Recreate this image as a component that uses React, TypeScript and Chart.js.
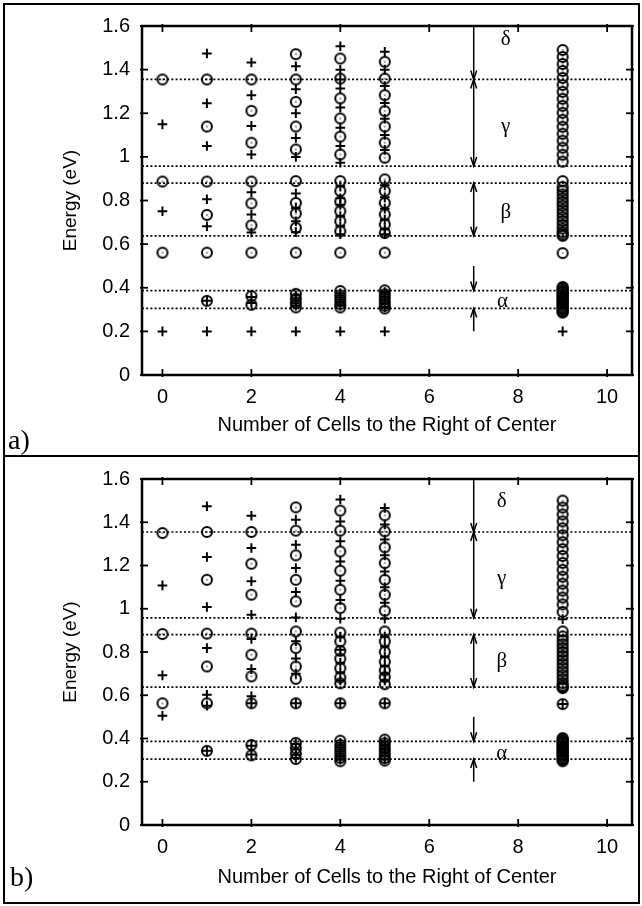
import React, { useEffect, useRef } from "react";
import { Chart, registerables } from "chart.js";
Chart.register(...registerables);

// ---------- shared axis data ----------
const X_MIN = -0.46;
const X_MAX = 10.56;
const xTicks = [0, 2, 4, 6, 8, 10];
const yTicks = [0, 0.2, 0.4, 0.6, 0.8, 1, 1.2, 1.4, 1.6];
const columns = [0, 1, 2, 3, 4, 5, 9];
const bandEdges = [1.355, 0.958, 0.88, 0.638, 0.387, 0.305];
const xTitle = "Number of Cells to the Right of Center";
const yTitle = "Energy (eV)";
const arrowX = 7;

// ---------- panel a ----------
const aCircles: number[][] = [
  [1.355, 0.887, 0.561],
  [1.355, 1.139, 0.887, 0.734, 0.561, 0.34],
  [1.355, 1.211, 1.065, 0.887, 0.787, 0.686, 0.561, 0.362, 0.322],
  [1.471, 1.355, 1.252, 1.139, 1.034, 0.889, 0.789, 0.74, 0.675, 0.561, 0.372, 0.35, 0.33, 0.31],
  [1.451, 1.359, 1.268, 1.176, 1.093, 1.011, 0.889, 0.843, 0.795, 0.751, 0.705, 0.659, 0.561, 0.385, 0.365, 0.345, 0.325, 0.31],
  [1.436, 1.359, 1.283, 1.21, 1.139, 1.065, 0.996, 0.897, 0.843, 0.789, 0.736, 0.69, 0.651, 0.561, 0.388, 0.37, 0.352, 0.335, 0.318, 0.305],
  [1.49, 1.458, 1.426, 1.394, 1.362, 1.33, 1.298, 1.266, 1.234, 1.202, 1.17, 1.138, 1.106, 1.074, 1.042, 1.01, 0.978,
   0.889, 0.862, 0.845, 0.828, 0.81, 0.793, 0.776, 0.758, 0.741, 0.723, 0.706, 0.688, 0.671, 0.655, 0.645, 0.638,
   0.559, 0.404, 0.398, 0.392, 0.386, 0.38, 0.374, 0.368, 0.362, 0.356, 0.35, 0.344, 0.338, 0.332, 0.326, 0.32, 0.314,
   0.308, 0.302, 0.296, 0.29, 0.286],
];
const aPluses: number[][] = [
  [1.149, 0.751, 0.2],
  [1.474, 1.246, 1.05, 0.806, 0.682, 0.34, 0.2],
  [1.433, 1.283, 1.142, 1.011, 0.838, 0.736, 0.653, 0.358, 0.33, 0.2],
  [1.415, 1.31, 1.2, 1.087, 1.0, 0.832, 0.766, 0.705, 0.655, 0.365, 0.34, 0.318, 0.2],
  [1.507, 1.399, 1.355, 1.313, 1.226, 1.134, 1.05, 0.973, 0.865, 0.81, 0.78, 0.728, 0.682, 0.645, 0.375, 0.355, 0.335, 0.318, 0.2],
  [1.482, 1.4, 1.325, 1.247, 1.175, 1.1, 1.032, 0.87, 0.815, 0.762, 0.712, 0.668, 0.645, 0.38, 0.36, 0.343, 0.325, 0.31, 0.2],
  [0.2],
];
// arrows at x = 7: [from, to, head at start, head at end]
const aArrows: [number, number, boolean, boolean][] = [
  [1.6, 1.355, false, true],
  [1.355, 0.958, true, true],
  [0.88, 0.638, true, true],
  [0.5, 0.387, false, true],
  [0.2, 0.305, false, true],
];
const aGreekText = ["δ", "γ", "β", "α"];
const aGreekX = [7.72, 7.72, 7.72, 7.65];
const aGreekY = [1.537, 1.14, 0.745, 0.335];

// ---------- panel b ----------
const bCircles: number[][] = [
  [1.35, 0.883, 0.563],
  [1.355, 1.134, 0.885, 0.733, 0.563, 0.343],
  [1.355, 1.208, 1.065, 0.885, 0.787, 0.687, 0.563, 0.37, 0.322],
  [1.469, 1.361, 1.247, 1.134, 1.034, 0.895, 0.818, 0.733, 0.676, 0.563, 0.38, 0.355, 0.33, 0.305],
  [1.454, 1.361, 1.265, 1.176, 1.088, 1.003, 0.89, 0.849, 0.805, 0.769, 0.725, 0.682, 0.655, 0.563, 0.39, 0.37, 0.35, 0.33, 0.31, 0.295],
  [1.432, 1.358, 1.284, 1.211, 1.134, 1.065, 0.991, 0.895, 0.849, 0.8, 0.755, 0.715, 0.684, 0.651, 0.563, 0.395, 0.378, 0.36, 0.343, 0.326, 0.31, 0.298],
  [1.5, 1.468, 1.436, 1.404, 1.372, 1.34, 1.308, 1.276, 1.244, 1.212, 1.18, 1.148, 1.116, 1.084, 1.052, 1.02, 0.985,
   0.895, 0.872, 0.854, 0.836, 0.818, 0.8, 0.782, 0.764, 0.746, 0.728, 0.71, 0.692, 0.674, 0.656, 0.645, 0.638, 0.633,
   0.559, 0.402, 0.396, 0.39, 0.384, 0.378, 0.372, 0.366, 0.36, 0.354, 0.348, 0.342, 0.336, 0.33, 0.324, 0.318, 0.312,
   0.306, 0.3, 0.295],
];
const bPluses: number[][] = [
  [1.108, 0.692, 0.505],
  [1.474, 1.239, 1.008, 0.818, 0.602, 0.552, 0.343],
  [1.43, 1.281, 1.127, 0.972, 0.86, 0.721, 0.595, 0.563, 0.366, 0.326],
  [1.412, 1.296, 1.188, 1.077, 0.96, 0.85, 0.77, 0.7, 0.563, 0.375, 0.35, 0.325, 0.31],
  [1.505, 1.404, 1.312, 1.219, 1.13, 1.04, 0.954, 0.87, 0.81, 0.75, 0.705, 0.668, 0.563, 0.38, 0.36, 0.34, 0.32, 0.302],
  [1.466, 1.39, 1.32, 1.247, 1.172, 1.1, 1.028, 0.954, 0.87, 0.825, 0.778, 0.735, 0.7, 0.668, 0.563, 0.387, 0.37, 0.352, 0.335, 0.318, 0.303],
  [0.952, 0.559],
];
const bArrows: [number, number, boolean, boolean][] = [
  [1.6, 1.355, false, true],
  [1.355, 0.958, true, true],
  [0.88, 0.638, true, true],
  [0.5, 0.387, false, true],
  [0.2, 0.305, false, true],
];
const bGreekText = ["δ", "γ", "β", "α"];
const bGreekX = [7.63, 7.63, 7.63, 7.63];
const bGreekY = [1.494, 1.142, 0.756, 0.332];

const SANS = '"Liberation Sans", Arial, sans-serif';
const SERIF = '"Liberation Serif", "DejaVu Serif", serif';

function makeRing(): HTMLCanvasElement {
  const c = document.createElement("canvas");
  c.width = 14;
  c.height = 14;
  const g = c.getContext("2d")!;
  g.strokeStyle = "#000";
  g.lineWidth = 2;
  g.beginPath();
  g.arc(7, 7, 5, 0, Math.PI * 2);
  g.stroke();
  g.fillStyle = "#222";
  g.beginPath();
  g.arc(7, 7, 0.8, 0, Math.PI * 2);
  g.fill();
  return c;
}

type PanelCfg = {
  circles: number[][];
  pluses: number[][];
  arrows: [number, number, boolean, boolean][];
  greekText: string[];
  greekX: number[];
  greekY: number[];
  label: string;
  labelX: number;
  labelY: number;
  height: number;
  padTop: number;
  xAxisHeight: number;
  xTitlePad: number;
};

function Panel({ cfg, top }: { cfg: PanelCfg; top: number }) {
  const ref = useRef<HTMLCanvasElement | null>(null);
  useEffect(() => {
    if (!ref.current) return;
    const ring = makeRing();
    const circlePts: { x: number; y: number }[] = [];
    const plusPts: { x: number; y: number }[] = [];
    columns.forEach((c, i) => {
      cfg.circles[i].forEach((v) => circlePts.push({ x: c, y: v }));
      cfg.pluses[i].forEach((v) => plusPts.push({ x: c, y: v }));
    });
    const lineSets = bandEdges.map((e) => ({
      type: "scatter" as const,
      data: [
        { x: X_MIN, y: e },
        { x: X_MAX, y: e },
      ],
      showLine: true,
      pointRadius: 0,
      borderColor: "#000",
      borderWidth: 1.7,
      borderDash: [2, 2.2],
    }));

    const overlay = {
      id: "overlay",
      afterDraw(chart: any) {
        const { ctx, chartArea: a, scales } = chart;
        const xs = scales.x;
        const ys = scales.y;
        ctx.save();
        ctx.strokeStyle = "#000";
        ctx.fillStyle = "#000";
        // frame
        ctx.lineWidth = 2.5;
        ctx.strokeRect(a.left, a.top, a.right - a.left, a.bottom - a.top);
        // inward ticks
        ctx.lineWidth = 1.8;
        const seg = (x1: number, y1: number, x2: number, y2: number) => {
          ctx.beginPath();
          ctx.moveTo(x1, y1);
          ctx.lineTo(x2, y2);
          ctx.stroke();
        };
        yTicks.forEach((v) => {
          const py = ys.getPixelForValue(v);
          seg(a.left - 2, py, a.left + 6, py);
          seg(a.right - 6, py, a.right + 2, py);
        });
        xTicks.forEach((v) => {
          const px = xs.getPixelForValue(v);
          seg(px, a.bottom + 2, px, a.bottom - 6);
          seg(px, a.top - 2, px, a.top + 6);
        });
        // arrows
        ctx.lineWidth = 1.5;
        const ax = xs.getPixelForValue(arrowX);
        const head = (yTip: number, dir: number) => {
          ctx.beginPath();
          ctx.moveTo(ax - 3, yTip - dir * 9);
          ctx.lineTo(ax, yTip);
          ctx.lineTo(ax + 3, yTip - dir * 9);
          ctx.stroke();
        };
        cfg.arrows.forEach(([f, t, hs, he]) => {
          const y1 = ys.getPixelForValue(f);
          const y2 = ys.getPixelForValue(t);
          seg(ax, y1, ax, y2);
          const dir = y2 > y1 ? 1 : -1;
          if (he) head(y2, dir);
          if (hs) head(y1, -dir);
        });
        // greek labels
        ctx.font = `21px ${SERIF}`;
        ctx.textAlign = "center";
        ctx.textBaseline = "middle";
        cfg.greekText.forEach((s, i) => {
          ctx.fillText(s, xs.getPixelForValue(cfg.greekX[i]), ys.getPixelForValue(cfg.greekY[i]));
        });
        // panel label
        ctx.font = `28px ${SERIF}`;
        ctx.textAlign = "left";
        ctx.textBaseline = "alphabetic";
        ctx.fillText(cfg.label, cfg.labelX, cfg.labelY);
        ctx.restore();
      },
    };

    const chart = new Chart(ref.current, {
      type: "scatter",
      data: {
        datasets: [
          ...lineSets,
          {
            data: plusPts,
            pointStyle: "cross",
            pointRadius: 4.8,
            borderColor: "#000",
            borderWidth: 2,
            backgroundColor: "#000",
          } as any,
          {
            data: circlePts,
            pointStyle: ring,
            pointRadius: 5,
            borderColor: "#000",
          } as any,
        ],
      },
      options: {
        animation: false,
        responsive: false,
        devicePixelRatio: 1,
        events: [],
        layout: { padding: { top: cfg.padTop, right: 10, left: 0, bottom: 0 } },
        plugins: { legend: { display: false }, tooltip: { enabled: false } },
        scales: {
          x: {
            type: "linear",
            min: X_MIN,
            max: X_MAX,
            grid: { display: false, drawTicks: false },
            border: { display: false },
            afterBuildTicks: (s: any) => {
              s.ticks = xTicks.map((v) => ({ value: v }));
            },
            afterFit: (s: any) => {
              s.height = cfg.xAxisHeight;
            },
            ticks: {
              color: "#000",
              font: { family: SANS, size: 20 },
              padding: 10,
              maxRotation: 0,
              autoSkip: false,
              callback: (v: any) => String(v),
            },
            title: {
              display: true,
              text: xTitle,
              color: "#000",
              font: { family: SANS, size: 20 },
              padding: { top: 0, bottom: cfg.xTitlePad },
            },
          },
          y: {
            type: "linear",
            min: 0,
            max: 1.6,
            grid: { display: false, drawTicks: false },
            border: { display: false },
            afterBuildTicks: (s: any) => {
              s.ticks = yTicks.map((v) => ({ value: v }));
            },
            afterFit: (s: any) => {
              s.width = 142;
            },
            ticks: {
              color: "#000",
              font: { family: SANS, size: 20 },
              padding: 12,
              autoSkip: false,
              callback: (v: any) => String(Math.round(Number(v) * 10) / 10),
            },
            title: {
              display: true,
              text: yTitle,
              color: "#000",
              font: { family: SANS, size: 19 },
              padding: { top: 59, bottom: 0 },
            },
          },
        },
      } as any,
      plugins: [overlay],
    });
    return () => chart.destroy();
  }, [cfg]);
  return (
    <canvas
      ref={ref}
      width={642}
      height={cfg.height}
      style={{ position: "absolute", left: 0, top, width: 642, height: cfg.height }}
    />
  );
}

const panelA: PanelCfg = {
  circles: aCircles,
  pluses: aPluses,
  arrows: aArrows,
  greekText: aGreekText,
  greekX: aGreekX,
  greekY: aGreekY,
  label: "a)",
  labelX: 8,
  labelY: 449,
  height: 455,
  padTop: 26,
  xAxisHeight: 80,
  xTitlePad: 18,
};
const panelB: PanelCfg = {
  circles: bCircles,
  pluses: bPluses,
  arrows: bArrows,
  greekText: bGreekText,
  greekX: bGreekX,
  greekY: bGreekY,
  label: "b)",
  labelX: 10,
  labelY: 431,
  height: 451,
  padTop: 24,
  xAxisHeight: 81,
  xTitlePad: 17,
};

export default function App() {
  useEffect(() => {
    document.body.style.margin = "0";
    document.body.style.background = "#fff";
  }, []);
  return (
    <div style={{ position: "absolute", left: 0, top: 0, width: 642, height: 906, background: "#fff", overflow: "hidden" }}>
      <Panel cfg={panelA} top={0} />
      <Panel cfg={panelB} top={455} />
      <div style={{ position: "absolute", left: 3, top: 3, width: 637, height: 454, border: "2px solid #000", boxSizing: "border-box", pointerEvents: "none" }} />
      <div style={{ position: "absolute", left: 3, top: 455, width: 637, height: 449, border: "2px solid #000", boxSizing: "border-box", pointerEvents: "none" }} />
    </div>
  );
}
